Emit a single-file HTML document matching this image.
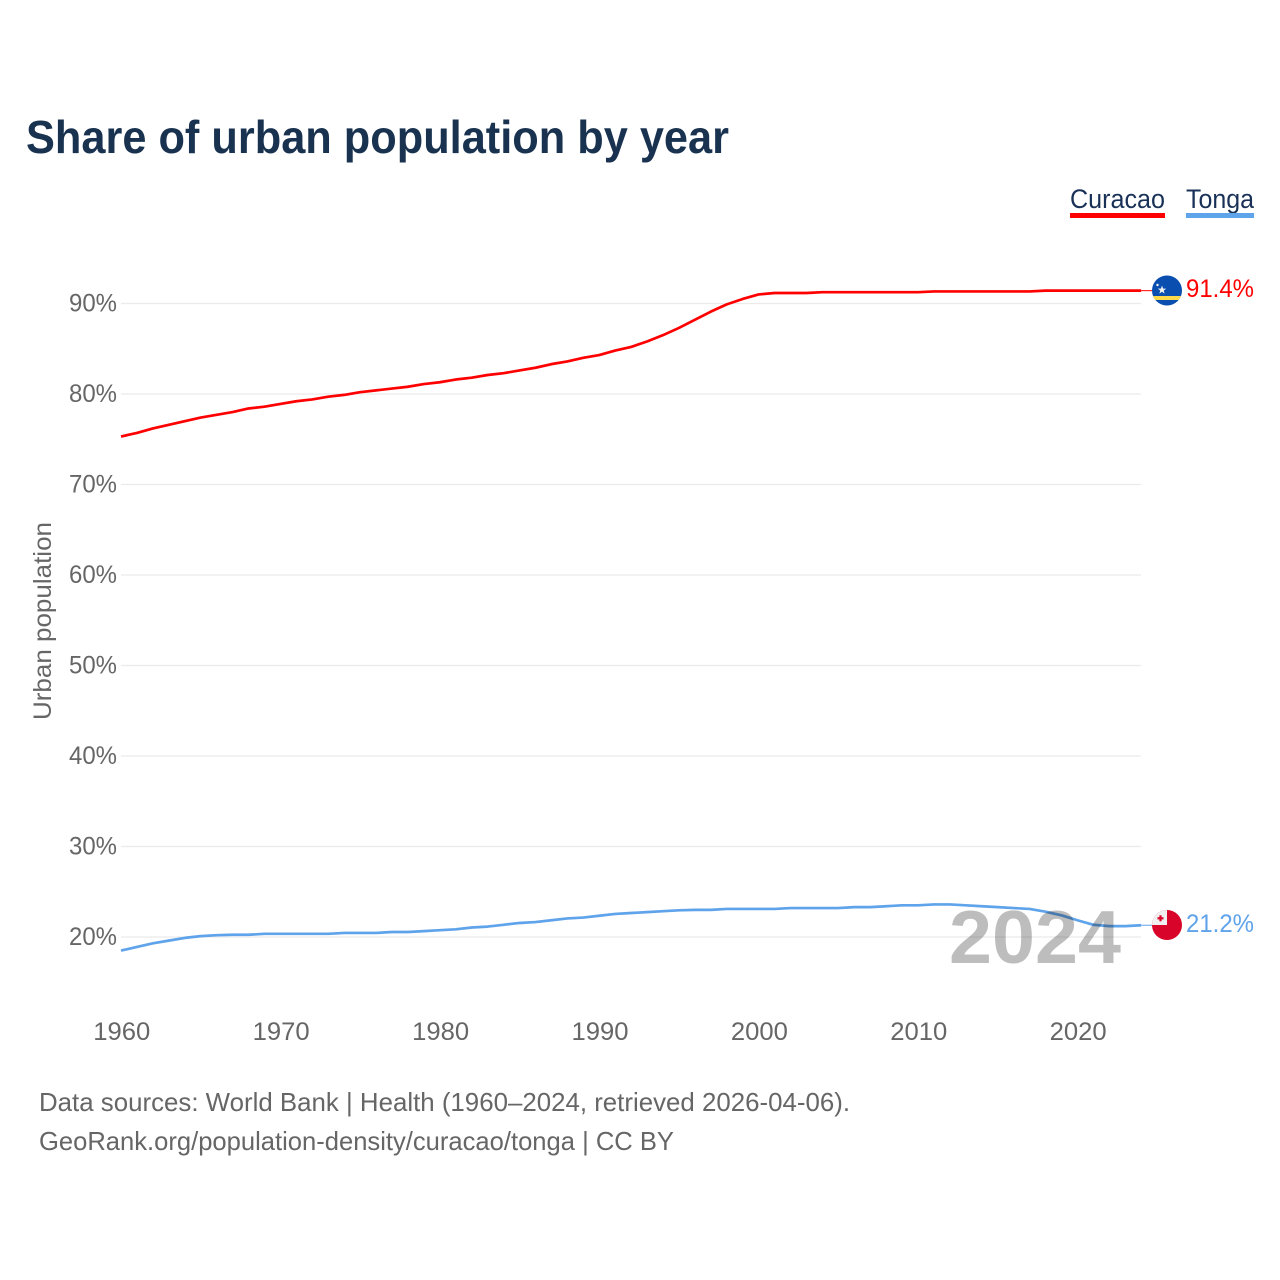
<!DOCTYPE html>
<html lang="en">
<head>
<meta charset="utf-8">
<title>Share of urban population by year</title>
<style>
html,body{margin:0;padding:0;background:#fff;}
svg{display:block;font-family:"Liberation Sans",sans-serif;}
</style>
</head>
<body>
<svg id="chart" xmlns="http://www.w3.org/2000/svg" width="1280" height="1280" viewBox="0 0 1280 1280">
  <rect x="0" y="0" width="1280" height="1280" fill="#ffffff"/>
  <text x="26" y="153" font-size="46" font-weight="700" fill="#18324f" textLength="703" lengthAdjust="spacingAndGlyphs">Share of urban population by year</text>

  <g>
    <text x="1070" y="208" font-size="27" fill="#1a3157" textLength="95" lengthAdjust="spacingAndGlyphs">Curacao</text>
    <rect x="1070" y="213" width="95" height="5" fill="#ff0000"/>
  </g>
  <g>
    <text x="1186" y="208" font-size="27" fill="#1a3157" textLength="68" lengthAdjust="spacingAndGlyphs">Tonga</text>
    <rect x="1186" y="213" width="68" height="5" fill="#5fa3ea"/>
  </g>

  <text transform="translate(51,621) rotate(-90)" text-anchor="middle" font-size="25" fill="#666666" textLength="198" lengthAdjust="spacingAndGlyphs">Urban population</text>

  <g id="grid"></g>
  <g id="yTicks"></g>
  <g id="xTicks"></g>
  <g id="series"></g>

  <text x="949" y="963" font-size="75" font-weight="700" fill="#bdbdbd" textLength="172" lengthAdjust="spacingAndGlyphs" style="mix-blend-mode:multiply">2024</text>

  <g id="curacaoEnd">
    <clipPath id="clipC"><circle cx="1167" cy="290.5" r="15"/></clipPath>
    <g clip-path="url(#clipC)">
      <rect x="1152" y="275" width="30" height="31" fill="#0a4fb0"/>
      <rect x="1152" y="296" width="30" height="4" fill="#fcd94a"/>
      <polygon points="1162,285.5 1163.1,288.6 1166.2,288.6 1163.7,290.6 1164.7,293.6 1162,291.8 1159.3,293.6 1160.3,290.6 1157.8,288.6 1160.9,288.6" fill="#f2f2f2"/>
      <circle cx="1157.5" cy="285" r="1.2" fill="#f2f2f2"/>
    </g>
  </g>
  <g id="tongaEnd">
    <clipPath id="clipT"><circle cx="1167" cy="925" r="15"/></clipPath>
    <g clip-path="url(#clipT)">
      <rect x="1152" y="910" width="30" height="31" fill="#d90429"/>
      <rect x="1152" y="910" width="15" height="15" fill="#f0f0f0"/>
      <rect x="1157.5" y="917.2" width="6" height="2.2" fill="#d90429"/>
      <rect x="1159.4" y="915.3" width="2.2" height="6" fill="#d90429"/>
    </g>
  </g>
  <text x="1186" y="297" font-size="25" fill="#ff0000" textLength="68" lengthAdjust="spacingAndGlyphs">91.4%</text>
  <text x="1186" y="932" font-size="25" fill="#5fa3ea" textLength="68" lengthAdjust="spacingAndGlyphs">21.2%</text>

  <text x="39" y="1111" font-size="26" fill="#666666" textLength="811" lengthAdjust="spacingAndGlyphs">Data sources: World Bank | Health (1960–2024, retrieved 2026-04-06).</text>
  <text x="39" y="1150" font-size="26" fill="#666666" textLength="635" lengthAdjust="spacingAndGlyphs">GeoRank.org/population-density/curacao/tonga | CC BY</text>
</svg>
<script>
const firstYear = 1960;
const xTickYears = [1960, 1970, 1980, 1990, 2000, 2010, 2020];
const yTickValues = [20, 30, 40, 50, 60, 70, 80, 90];
const curacaoValues = [
  75.3, 75.7, 76.2, 76.6, 77.0, 77.4, 77.7, 78.0, 78.4, 78.6,
  78.9, 79.2, 79.4, 79.7, 79.9, 80.2, 80.4, 80.6, 80.8, 81.1,
  81.3, 81.6, 81.8, 82.1, 82.3, 82.6, 82.9, 83.3, 83.6, 84.0,
  84.3, 84.8, 85.2, 85.8, 86.5, 87.3, 88.2, 89.1, 89.9, 90.5,
  91.0, 91.16, 91.16, 91.16, 91.25, 91.25, 91.25, 91.25, 91.25, 91.25,
  91.25, 91.33, 91.33, 91.33, 91.33, 91.33, 91.33, 91.33, 91.42, 91.42,
  91.42, 91.42, 91.42, 91.42, 91.42
];
const tongaValues = [
  18.5, 18.9, 19.3, 19.6, 19.9, 20.1, 20.2, 20.25, 20.25, 20.35,
  20.35, 20.35, 20.35, 20.35, 20.45, 20.45, 20.45, 20.55, 20.55, 20.65,
  20.75, 20.85, 21.05, 21.15, 21.35, 21.55, 21.65, 21.85, 22.05, 22.15,
  22.35, 22.55, 22.65, 22.75, 22.85, 22.95, 23.0, 23.0, 23.1, 23.1,
  23.1, 23.1, 23.2, 23.2, 23.2, 23.2, 23.3, 23.3, 23.4, 23.5,
  23.5, 23.6, 23.6, 23.5, 23.4, 23.3, 23.2, 23.1, 22.8, 22.4,
  21.85, 21.35, 21.2, 21.2, 21.3
];

const SVG_NS = 'http://www.w3.org/2000/svg';
function xScale(year) { return 121 + (year - 1960) * 15.94; }
function yScale(value) { return 303.5 + (90 - value) * 9.05; }
function pointsFor(values) {
  return values.map(function (v, i) {
    return xScale(firstYear + i).toFixed(2) + ',' + yScale(v).toFixed(2);
  }).join(' ');
}

const gridGroup = document.getElementById('grid');
const yTickGroup = document.getElementById('yTicks');
const xTickGroup = document.getElementById('xTicks');
const seriesGroup = document.getElementById('series');

yTickValues.forEach(function (v) {
  const line = document.createElementNS(SVG_NS, 'line');
  
  
  line.setAttribute('x1', 121);
  line.setAttribute('x2', 1141);
  line.setAttribute('y1', yScale(v));
  line.setAttribute('y2', yScale(v));
  line.setAttribute('stroke', '#ebebeb');
  line.setAttribute('stroke-width', '1.3');
  gridGroup.appendChild(line);

  const label = document.createElementNS(SVG_NS, 'text');
  
  
  label.setAttribute('x', 117);
  label.setAttribute('y', yScale(v) + 8);
  label.setAttribute('text-anchor', 'end');
  label.setAttribute('font-size', '25');
  label.setAttribute('fill', '#666666');
  label.setAttribute('textLength', '48');
  label.setAttribute('lengthAdjust', 'spacingAndGlyphs');
  label.textContent = v + '%';
  yTickGroup.appendChild(label);
});

xTickYears.forEach(function (y) {
  const label = document.createElementNS(SVG_NS, 'text');
  
  
  label.setAttribute('x', xScale(y) + 0.8);
  label.setAttribute('y', 1040);
  label.setAttribute('text-anchor', 'middle');
  label.setAttribute('font-size', '25');
  label.setAttribute('fill', '#666666');
  label.setAttribute('textLength', '57');
  label.setAttribute('lengthAdjust', 'spacingAndGlyphs');
  label.textContent = y;
  xTickGroup.appendChild(label);
});

function drawSeries(values, color, name) {
  const line = document.createElementNS(SVG_NS, 'polyline');
  
  
  line.setAttribute('points', pointsFor(values));
  line.setAttribute('fill', 'none');
  line.setAttribute('stroke', color);
  line.setAttribute('stroke-width', '2.7');
  line.setAttribute('stroke-linejoin', 'round');
  seriesGroup.appendChild(line);

  const last = values[values.length - 1];
  const leader = document.createElementNS(SVG_NS, 'line');
  
  
  leader.setAttribute('x1', xScale(firstYear + values.length - 1));
  leader.setAttribute('x2', 1153);
  leader.setAttribute('y1', yScale(last));
  leader.setAttribute('y2', yScale(last));
  leader.setAttribute('stroke', color);
  leader.setAttribute('stroke-width', '1');
  seriesGroup.appendChild(leader);
}
drawSeries(curacaoValues, '#ff0000', 'curacao-line');
drawSeries(tongaValues, '#5fa3ea', 'tonga-line');
</script>
</body>
</html>
